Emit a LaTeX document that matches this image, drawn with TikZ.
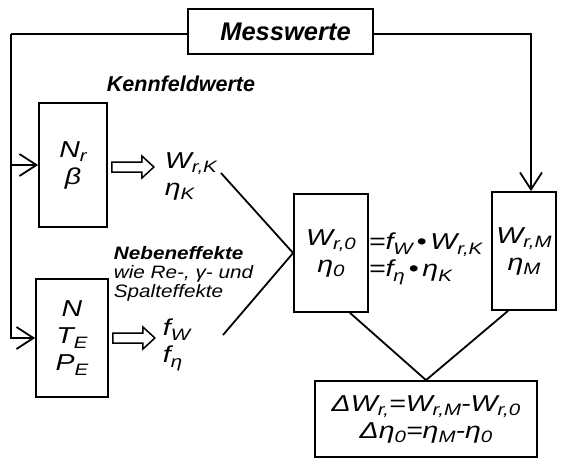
\documentclass[tikz,border=0pt]{standalone}
\usepackage{fontspec}
\setmainfont{Liberation Sans}
\newfontfamily\mf[FakeStretch=1.24]{Liberation Sans}
\newfontfamily\nf[FakeStretch=1.15]{Liberation Sans}
\usepackage{graphicx}
\usetikzlibrary{arrows.meta,calc}
\newcommand\lo[1]{\raisebox{-0.38ex}{\fontsize{16.5}{16}\selectfont #1}}
\begin{document}
\begin{tikzpicture}[x=1pt,y=-1pt,line width=1.8pt,
  box/.style={draw,line width=1.8pt,inner sep=0pt,align=center,font=\mf\fontsize{23}{27}\selectfont\itshape},
  lbl/.style={inner sep=0pt,align=left,anchor=west,font=\mf\fontsize{23}{27}\selectfont\itshape},
  arr/.style={-{Straight Barb[length=17pt,width=22pt,line width=1.8pt]}},
  hollow/.style={line width=1.5pt}]
\useasboundingbox (0,0) rectangle (561,467);
\node[draw,line width=1.8pt,inner sep=0pt,minimum width=185pt,minimum height=45pt,font=\fontsize{25.5}{25}\selectfont\bfseries\itshape] (mess) at (280.5,31.8) {\hspace*{10pt}Messwerte};
\node[inner sep=0pt,font=\fontsize{21.5}{21}\selectfont\bfseries\itshape] (kenn) at (181,84) {Kennfeldwerte};
\node[box,minimum width=68pt,minimum height=124pt] (b1) at (73,165) {N\lo{r}\\β};
\node[lbl] (t1) at (164,176) {W\lo{r,K}\\η\lo{K}};
\node[box,minimum width=72pt,minimum height=118pt] (b2) at (72,338) {N\\T\lo{E}\\P\lo{E}};
\node[anchor=north west,inner sep=0pt,align=left,font=\nf\fontsize{18}{19}\selectfont\itshape] (neb) at (113,246) {\textbf{Nebeneffekte}\\wie Re-, γ- und\\Spalteffekte};
\node[lbl] (t2) at (162,345) {f\lo{W}\\f\lo{η}};
\node[box,minimum width=74pt,minimum height=118pt] (b3) at (331,253) {W\lo{r,0}\\η\lo{0}};
\node[lbl] (eq) at (368,259) {=f\lo{W}\,•\,W\lo{r,K}\\=f\lo{η}\,•\,η\lo{K}};
\node[box,minimum width=64pt,minimum height=118pt] (b4) at (524,251) {W\lo{r,M}\\η\lo{M}};
\node[box,minimum width=222pt,minimum height=76pt] (b5) at (426,419) {ΔW\lo{r,}=W\lo{r,M}-W\lo{r,0}\\Δη\lo{0}=η\lo{M}-η\lo{0}};
\coordinate (tl) at (11,34);
\coordinate (tr) at (531,34);
\coordinate (c1) at (221,173);
\coordinate (c2) at (223,335);
\draw (mess.west |- tl) -- (tl);
\draw[arr] (tl) |- (b2.west);
\draw[arr] (tl |- b1.west) -- (b1.west);
\draw[arr] (mess.east |- tr) -- (tr) -- (tr |- b4.north);
\draw (c1) -- (b3.west) -- (c2);
\draw ([xshift=19pt]b3.south) -- (b5.north) -- ([xshift=-16pt]b4.south);
\draw[hollow] ($(b1.east)+(4,-3)$) -- ++(30,0) -- ++(0,-6) -- ++(12,11) -- ++(-12,11) -- ++(0,-6) -- ++(-30,0) -- cycle;
\draw[hollow] ($(b2.east)+(4,-5)$) -- ++(30,0) -- ++(0,-6) -- ++(12,11) -- ++(-12,11) -- ++(0,-6) -- ++(-30,0) -- cycle;
\end{tikzpicture}
\end{document}
